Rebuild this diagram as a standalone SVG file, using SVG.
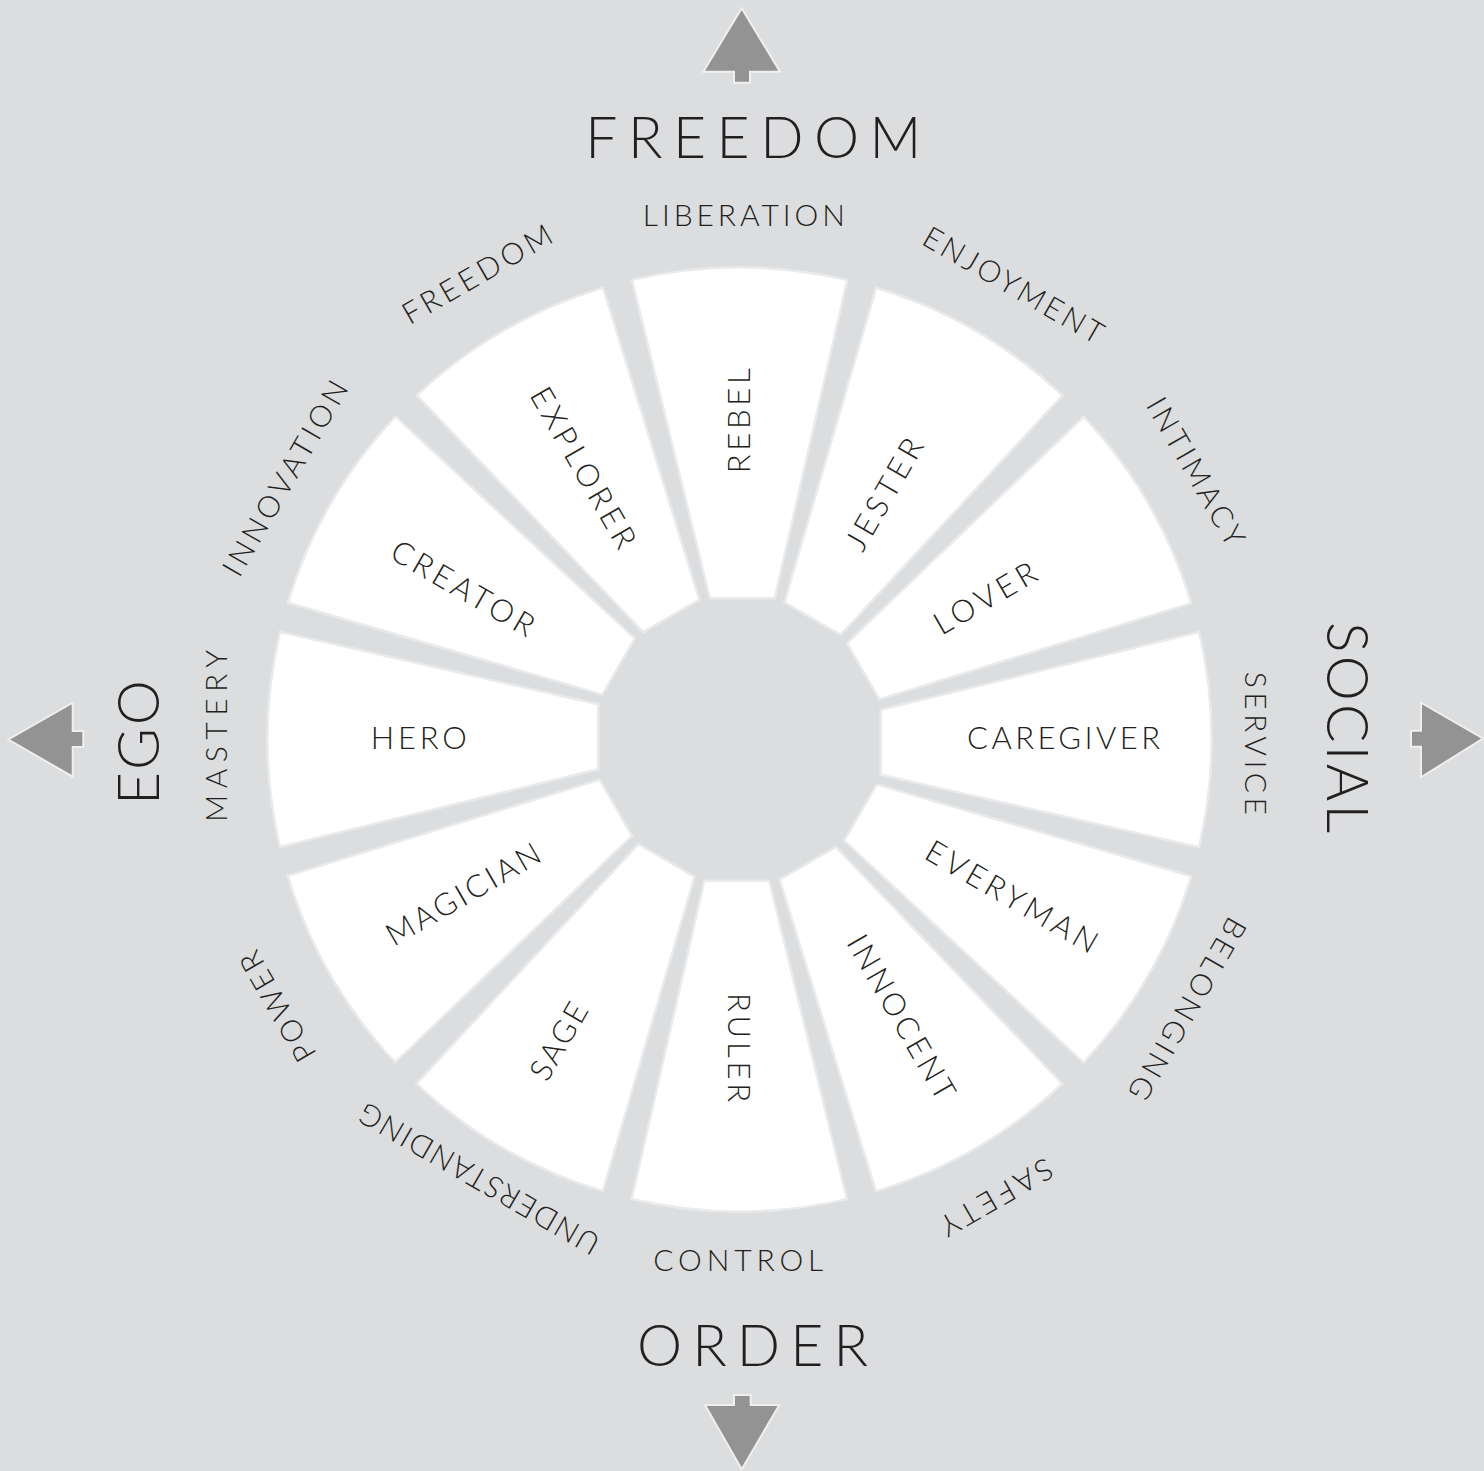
<svg xmlns="http://www.w3.org/2000/svg" xmlns:xlink="http://www.w3.org/1999/xlink" width="1484" height="1471" viewBox="0 0 1484 1471">
<style>
.t{font-family:Lato,"Liberation Sans",sans-serif;font-weight:300;fill:#231f20;text-anchor:middle}
.in{font-size:31px}
.out{font-size:30px}
.title{font-size:57px}
.seg{fill:#ffffff;stroke:#e9eaeb;stroke-width:2.5;stroke-linejoin:miter}
.arrow{fill:#939393;stroke:#efefef;stroke-width:2;stroke-linejoin:miter}
</style>
<defs>
<path id="wedge" d="M141.2,-29.7 L459.6,-107.5 A471.5 471.5 0 0 1 459.5,107.8 L141.2,35.2 Z"/>
</defs>
<rect x="0" y="0" width="1484" height="1471" fill="#dcdddf"/>

<g id="connectors">
<path class="arrow" d="M741.7,8.3 L780,71.7 L750,71.7 L750,82.7 L734,82.7 L734,71.7 L703.3,71.7 Z"/>
<path class="arrow" d="M8.3,739.5 L72.7,702.7 L72.7,731 L83.3,731 L83.3,747 L72.7,747 L72.7,776.7 Z"/>
<path class="arrow" d="M1483,738.5 L1421,702.7 L1421,730.7 L1411,730.7 L1411,746.7 L1421,746.7 L1421,777.3 Z"/>
<path class="arrow" d="M741.7,1469.3 L779.3,1405 L750.7,1405 L750.7,1395 L734,1395 L734,1405 L705,1405 Z"/>
</g>

<g id="caregiver"><use href="#wedge" class="seg" transform="translate(739.5 739.5) rotate(0)"/><text class="t in" transform="translate(1063.5 738) rotate(0)" y="11.1" textLength="193">CAREGIVER</text></g>
<g id="everyman"><use href="#wedge" class="seg" transform="translate(739.5 739.5) rotate(30)"/><text class="t in" transform="translate(1012 896.5) rotate(30)" y="11.1" textLength="193">EVERYMAN</text></g>
<g id="innocent"><use href="#wedge" class="seg" transform="translate(739.5 739.5) rotate(60)"/><text class="t in" transform="translate(901.5 1017) rotate(60)" y="11.1" textLength="185">INNOCENT</text></g>
<g id="ruler"><use href="#wedge" class="seg" transform="translate(739.5 739.5) rotate(90)"/><text class="t in" transform="translate(739.5 1047.5) rotate(90)" y="11.1" textLength="109">RULER</text></g>
<g id="sage"><use href="#wedge" class="seg" transform="translate(739.5 739.5) rotate(120)"/><text class="t in" transform="translate(558.5 1041) rotate(-60)" y="11.1" textLength="84">SAGE</text></g>
<g id="magician"><use href="#wedge" class="seg" transform="translate(739.5 739.5) rotate(150)"/><text class="t in" transform="translate(463 894) rotate(-30)" y="11.1" textLength="173">MAGICIAN</text></g>
<g id="hero"><use href="#wedge" class="seg" transform="translate(739.5 739.5) rotate(180)"/><text class="t in" transform="translate(418.7 738) rotate(0)" y="11.1" textLength="96">HERO</text></g>
<g id="creator"><use href="#wedge" class="seg" transform="translate(739.5 739.5) rotate(210)"/><text class="t in" transform="translate(463 588) rotate(30)" y="11.1" textLength="160">CREATOR</text></g>
<g id="explorer"><use href="#wedge" class="seg" transform="translate(739.5 739.5) rotate(240)"/><text class="t in" transform="translate(583.5 467.5) rotate(60)" y="11.1" textLength="180">EXPLORER</text></g>
<g id="rebel"><use href="#wedge" class="seg" transform="translate(739.5 739.5) rotate(270)"/><text class="t in" transform="translate(738.7 420.8) rotate(-90)" y="11.1" textLength="105">REBEL</text></g>
<g id="jester"><use href="#wedge" class="seg" transform="translate(739.5 739.5) rotate(300)"/><text class="t in" transform="translate(884 494) rotate(-60)" y="11.1" textLength="124">JESTER</text></g>
<g id="lover"><use href="#wedge" class="seg" transform="translate(739.5 739.5) rotate(330)"/><text class="t in" transform="translate(985 598) rotate(-30)" y="11.1" textLength="113">LOVER</text></g>

<g id="outer-labels">
<text class="t out" transform="translate(743.8 215.2) rotate(0)" y="10.75" textLength="202">LIBERATION</text>
<text class="t out" transform="translate(1013.5 285) rotate(30)" y="10.75" textLength="203">ENJOYMENT</text>
<text class="t out" transform="translate(1196 471.5) rotate(60)" y="10.75" textLength="166">INTIMACY</text>
<text class="t out" transform="translate(1255.8 743.3) rotate(90)" y="10.75" textLength="143">SERVICE</text>
<text class="t out" transform="translate(1187.5 1009) rotate(120)" y="10.75" textLength="205">BELONGING</text>
<text class="t out" transform="translate(996.5 1197.5) rotate(150)" y="10.75" textLength="125">SAFETY</text>
<text class="t out" transform="translate(738.3 1260.5) rotate(0)" y="10.75" textLength="170">CONTROL</text>
<text class="t out" transform="translate(479 1179) rotate(210)" y="10.75" textLength="272">UNDERSTANDING</text>
<text class="t out" transform="translate(277.5 1006.5) rotate(240)" y="10.75" textLength="122">POWER</text>
<text class="t out" transform="translate(216.5 736) rotate(270)" y="10.75" textLength="172">MASTERY</text>
<text class="t out" transform="translate(285 478) rotate(300)" y="10.75" textLength="220">INNOVATION</text>
<text class="t out" transform="translate(477 274) rotate(330)" y="10.75" textLength="168">FREEDOM</text>
</g>

<g id="titles">
<text class="t title" x="753.3" y="158.3" textLength="336">FREEDOM</text>
<text class="t title" x="752.5" y="1365.7" textLength="231">ORDER</text>
<text class="t title" transform="translate(1326.7 727.5) rotate(90)" x="0" y="0" textLength="211">SOCIAL</text>
<text class="t title" transform="translate(159 742.5) rotate(-90)" x="0" y="0" textLength="125">EGO</text>
</g>
</svg>
